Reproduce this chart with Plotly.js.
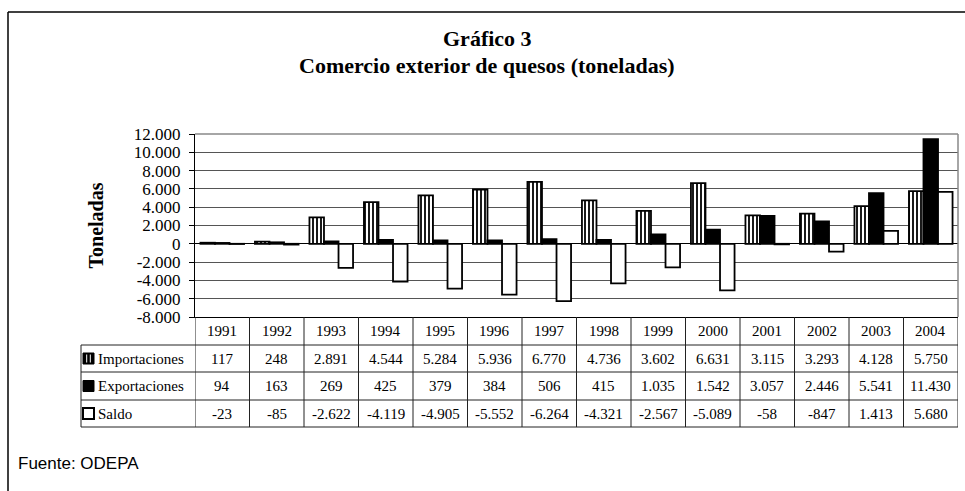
<!DOCTYPE html>
<html><head><meta charset="utf-8">
<script src="https://cdn.plot.ly/plotly-3.0.1.min.js"></script>
<style>html,body{margin:0;padding:0;background:#fff}</style>
</head><body><div id="chart" style="width:965px;height:491px"></div>
<script>
// ---- data ----
const years = ['1991','1992','1993','1994','1995','1996','1997','1998','1999','2000','2001','2002','2003','2004'];
const importaciones = [117,248,2891,4544,5284,5936,6770,4736,3602,6631,3115,3293,4128,5750];
const exportaciones = [94,163,269,425,379,384,506,415,1035,1542,3057,2446,5541,11430];
const saldo = [-23,-85,-2622,-4119,-4905,-5552,-6264,-4321,-2567,-5089,-58,-847,1413,5680];
const seriesNames = ['Importaciones','Exportaciones','Saldo'];
const yTickVals = [12000,10000,8000,6000,4000,2000,0,-2000,-4000,-6000,-8000];
const yTickText = ['12.000','10.000','8.000','6.000','4.000','2.000','0','-2.000','-4.000','-6.000','-8.000'];

// ---- layout geometry (pixels) ----
const L=195, R=958, T=134, B=317;
const pw=R-L, ph=B-T;
const px = x => (x-L)/pw;
const py = y => (B-y)/ph;
const fmt = v => (v<0?'-':'') + Math.abs(v).toString().replace(/\B(?=(\d{3})+(?!\d))/g,'.');
const serif = 'Liberation Serif, Times New Roman, serif';

const traces = [
  {type:'bar', name:seriesNames[0], x:years, y:importaciones,
   marker:{color:'white', line:{color:'black', width:1.8},
     pattern:{shape:'|', fgcolor:'black', bgcolor:'white', size:4, solidity:0.45}}},
  {type:'bar', name:seriesNames[1], x:years, y:exportaciones,
   marker:{color:'black', line:{color:'black', width:1.8}}},
  {type:'bar', name:seriesNames[2], x:years, y:saldo,
   marker:{color:'white', line:{color:'black', width:1.8}}}
];

const shapes = [];
const ann = [];
// outer frame
shapes.push({type:'line', xref:'paper', yref:'paper', x0:px(8), x1:px(975), y0:py(12), y1:py(12), line:{color:'black', width:1.5}});
shapes.push({type:'line', xref:'paper', yref:'paper', x0:px(8), x1:px(8), y0:py(12), y1:py(500), line:{color:'black', width:1.5}});
// plot border top/right
shapes.push({type:'line', xref:'paper', yref:'paper', x0:0, x1:1, y0:1, y1:1, line:{color:'#888', width:1.5}});
shapes.push({type:'line', xref:'paper', yref:'paper', x0:1, x1:1, y0:0, y1:1, line:{color:'#888', width:1.5}});
// table rows
const rowLines = [345,372,400,427];
rowLines.forEach(y => shapes.push({type:'line', xref:'paper', yref:'paper', x0:px(81), x1:1, y0:py(y), y1:py(y), line:{color:'#222', width:1}}));
shapes.push({type:'line', xref:'paper', yref:'paper', x0:px(81), x1:px(81), y0:py(345), y1:py(427), line:{color:'#222', width:1}});
for (let k=0; k<=years.length; k++) {
  shapes.push({type:'line', xref:'x', yref:'paper', x0:k-0.5, x1:k-0.5, y0:py(317), y1:py(427), line:{color:'#222', width:1}});
}
// table text (category axis: annotations use category index)
const rowCenters = [331, 358.5, 386, 413.5];
const tableRows = [importaciones, exportaciones, saldo];
years.forEach((yr,i) => {
  ann.push({xref:'x', yref:'paper', x:i, y:py(rowCenters[0]), text:yr, showarrow:false, yanchor:'middle', xanchor:'center', font:{family:serif, size:15, color:'black'}});
  tableRows.forEach((row,r) => {
    ann.push({xref:'x', yref:'paper', x:i, y:py(rowCenters[r+1]), text:fmt(row[i]), showarrow:false, yanchor:'middle', xanchor:'center', font:{family:serif, size:15, color:'black'}});
  });
});
seriesNames.forEach((n,r) => {
  const yc = rowCenters[r+1];
  ann.push({xref:'paper', yref:'paper', x:px(96), y:py(yc), text:n, showarrow:false, xanchor:'left', yanchor:'middle', font:{family:serif, size:15, color:'black'}});
  const x0=83, x1=94, y0=yc-5.5, y1=yc+5.5;
  if (r===0) {
    shapes.push({type:'rect', xref:'paper', yref:'paper', x0:px(x0), x1:px(x1), y0:py(y0), y1:py(y1), fillcolor:'black', line:{color:'black', width:1}});
    [86.7, 90.3].forEach(xx => shapes.push({type:'line', xref:'paper', yref:'paper', x0:px(xx), x1:px(xx), y0:py(y0+1.5), y1:py(y1-1.5), line:{color:'white', width:1}}));
  } else if (r===1) {
    shapes.push({type:'rect', xref:'paper', yref:'paper', x0:px(x0), x1:px(x1), y0:py(y0), y1:py(y1), fillcolor:'black', line:{color:'black', width:1}});
  } else {
    shapes.push({type:'rect', xref:'paper', yref:'paper', x0:px(x0), x1:px(x1), y0:py(y0), y1:py(y1), fillcolor:'white', line:{color:'black', width:2}});
  }
});
// title lines
ann.push({xref:'paper', yref:'paper', x:px(487), y:py(38), text:'<b>Gráfico 3</b>', showarrow:false, xanchor:'center', yanchor:'middle', font:{family:serif, size:22, color:'black'}});
ann.push({xref:'paper', yref:'paper', x:px(487), y:py(65), text:'<b>Comercio exterior de quesos (toneladas)</b>', showarrow:false, xanchor:'center', yanchor:'middle', font:{family:serif, size:22, color:'black'}});
// source
ann.push({xref:'paper', yref:'paper', x:px(16), y:py(463), text:'Fuente: ODEPA', showarrow:false, xanchor:'left', yanchor:'middle', font:{family:'Liberation Sans, Arial, sans-serif', size:17, color:'black'}});

const layout = {
  width:965, height:491,
  margin:{l:L, r:965-R, t:T, b:491-B, pad:0},
  paper_bgcolor:'white', plot_bgcolor:'white',
  showlegend:false,
  barmode:'group', bargap:0.2, bargroupgap:0,
  font:{family:serif, color:'black'},
  xaxis:{type:'category', range:[-0.5, years.length-0.5], showticklabels:false, ticks:'', showgrid:false,
         showline:true, linecolor:'black', linewidth:1, zeroline:false, fixedrange:true},
  yaxis:{range:[-8000,12000], tickvals:yTickVals, ticktext:yTickText, ticks:'outside', ticklen:5, tickcolor:'black',
         tickfont:{family:serif, size:17, color:'black'}, ticklabelstandoff:5, showline:true, linecolor:'black', linewidth:1,
         showgrid:true, gridcolor:'#555', gridwidth:1, zeroline:true, zerolinecolor:'black', zerolinewidth:1,
         title:{text:'<b>Toneladas</b>', font:{family:serif, size:20, color:'black'}, standoff:24}, fixedrange:true},
  shapes:shapes, annotations:ann
};
Plotly.newPlot('chart', traces, layout, {displayModeBar:false, staticPlot:true});
</script></body></html>
